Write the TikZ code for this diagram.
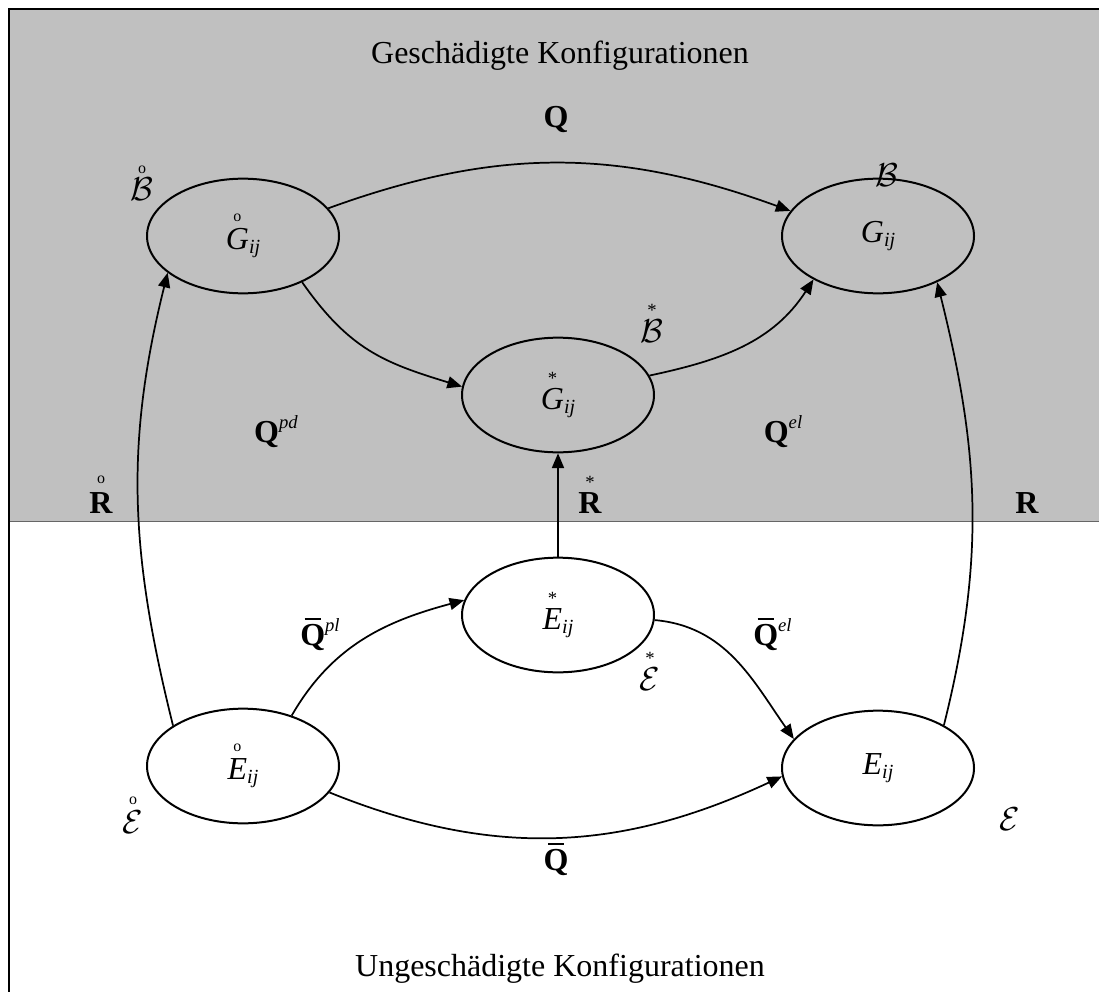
\documentclass[tikz,border=0pt]{standalone}
\usepackage{fontspec}
\setmainfont{Liberation Serif}
\usetikzlibrary{arrows.meta,shapes.geometric}
\definecolor{bg}{RGB}{192,192,192}
\newcommand\acc[3][5pt]{\leavevmode\vbox{\offinterlineskip\halign{\hfil##\hfil\cr#2\cr\noalign{\kern#1}#3\cr}}}
\newcommand\ringo{{\fontsize{12}{12}\selectfont o}}
\newcommand\astr{{\fontsize{14}{14}\selectfont *}}
\newcommand\sub[1]{\raisebox{-3.5pt}{\fontsize{15}{15}\selectfont\itshape #1}}
\newcommand\supr[1]{\raisebox{10pt}{\fontsize{14}{14}\selectfont\itshape #1}}
\newcommand\Qb{\acc[2.5pt]{\rule{12pt}{1.6pt}}{\textbf{Q}}}
\begin{document}
\begin{tikzpicture}[x=0.75pt,y=-0.75pt,
  every node/.style={font=\fontsize{24}{28}\selectfont, inner sep=0pt},
  ell/.style={draw, ellipse, line width=1.5pt, minimum width=144pt, minimum height=86pt},
  arr/.style={line width=1.3pt, -{Triangle[length=11pt,width=9pt]}},
  lbl/.style={anchor=base}]
\useasboundingbox (0,0) rectangle (1099,992);
\fill[bg] (9,9) rectangle (1099,521);
\draw[gray!80!black, line width=0.5pt] (9,521) -- (1099,521);
\draw[line width=2.2pt] (1099,9) -- (9,9) -- (9,992);

\node[ell] (G0) at (243,236) {\acc{\ringo}{\textit{G}}\sub{ij}};
\node[ell] (G)  at (878,236) {\textit{G}\sub{ij}};
\node[ell] (Gs) at (558,395) {\acc[3pt]{\astr}{\textit{G}}\sub{ij}};
\node[ell] (Es) at (558,615) {\acc[3pt]{\astr}{\textit{E}}\sub{ij}};
\node[ell] (E0) at (243,766) {\acc{\ringo}{\textit{E}}\sub{ij}};
\node[ell] (E)  at (878,768) {\textit{E}\sub{ij}};

\node[lbl] (tA) at (560,63) {Geschädigte Konfigurationen};
\node[lbl] (tB) at (560,976) {Ungeschädigte Konfigurationen};
\node[lbl] (lQ) at (556,127) {\textbf{Q}};
\node[lbl] (lB0) at (142,200) {\acc[3pt]{\ringo}{$\mathcal{B}$}};
\node[lbl] (lB) at (887,186) {$\mathcal{B}$};
\node[lbl] (lBs) at (652,342) {\acc[2pt]{\astr}{$\mathcal{B}$}};
\node[lbl] (lQpd) at (276,442) {\textbf{Q}\supr{pd}};
\node[lbl] (lQel) at (783,442) {\textbf{Q}\supr{el}};
\node[lbl] (lR0) at (101,513) {\acc[6pt]{\ringo}{\textbf{R}}};
\node[lbl] (lRs) at (590,513) {\acc[3pt]{\astr}{\textbf{R}}};
\node[lbl] (lR) at (1027,513) {\textbf{R}};
\node[anchor=base west] (lQpl) at (300,645) {\Qb\supr{pl}};
\node[anchor=base west] (lQbel) at (753,645) {\Qb\supr{el}};
\node[lbl] (lEs) at (650,690) {\acc[2pt]{\astr}{$\mathcal{E}$}};
\node[lbl] (lE0) at (133,833) {\acc[4pt]{\ringo}{$\mathcal{E}$}};
\node[lbl] (lE) at (1010,830) {$\mathcal{E}$};
\node[lbl] (lQb) at (556,870) {\Qb};

\draw[arr] (G0.18) to[out=20,in=160] (G.164);
\draw[arr] (G0.-38) to[out=-55,in=163,looseness=1.1] (Gs.175);
\draw[arr] (Gs.12) to[out=12,in=237] (G.214);
\draw[arr] (E0.150) to[out=104,in=256] (G0.206);
\draw[arr] (Es) -- (Gs);
\draw[arr] (E.33) to[out=76,in=-76] (G.-38);
\draw[arr] (E0.46) to[out=60,in=195] (Es.171);
\draw[arr] (Es.-3) to[out=-5,in=125] (E.161);
\draw[arr] (E0.-17) to[out=-22,in=205] (E.185);
\end{tikzpicture}
\end{document}
